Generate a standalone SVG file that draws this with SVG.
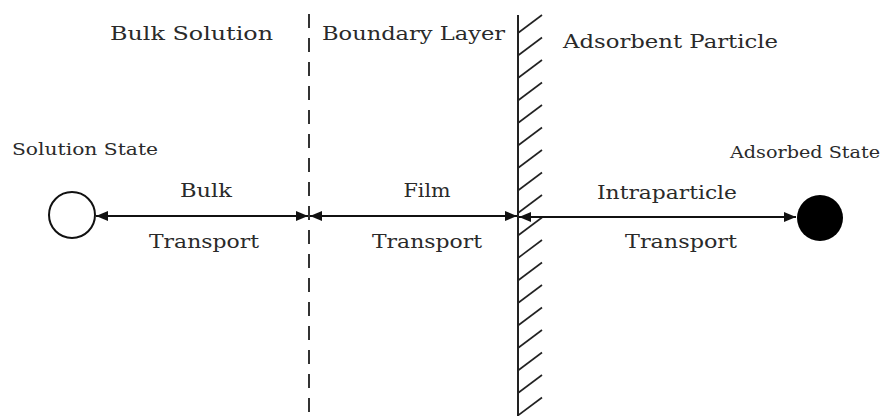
<svg xmlns="http://www.w3.org/2000/svg" width="886" height="416" viewBox="0 0 886 416">
  <style>
    text { font-family: "DejaVu Serif", "Liberation Serif", serif; fill: #2a2a2a; }
    .region { font-size: 18px; }
    .state { font-size: 16px; }
    .label { font-size: 18px; text-anchor: middle; }
    .flow { stroke: #111; stroke-width: 2; fill: none; marker-start: url(#head); marker-end: url(#head); }
    .hatch { stroke: #222; stroke-width: 1.6; }
  </style>
  <defs>
    <marker id="head" viewBox="0 0 12 10" refX="12" refY="5" markerWidth="12" markerHeight="10" markerUnits="userSpaceOnUse" orient="auto-start-reverse">
      <path d="M0,0 L12,5 L0,10 Z" fill="#111"/>
    </marker>
  </defs>

  <rect width="886" height="416" fill="#fff"/>

  <!-- region boundaries -->
  <g id="boundary-dashed">
    <line x1="309" y1="14" x2="309" y2="416" stroke="#333" stroke-width="2" stroke-dasharray="14 10"/>
  </g>
  <g id="particle-surface">
    <line x1="518" y1="15" x2="518" y2="416" stroke="#222" stroke-width="2"/>
    <g class="hatch">
      <line x1="518" y1="33" x2="542" y2="15"/>
      <line x1="518" y1="55.5" x2="542" y2="37.5"/>
      <line x1="518" y1="78" x2="542" y2="60"/>
      <line x1="518" y1="100.5" x2="542" y2="82.5"/>
      <line x1="518" y1="123" x2="542" y2="105"/>
      <line x1="518" y1="145.5" x2="542" y2="127.5"/>
      <line x1="518" y1="168" x2="542" y2="150"/>
      <line x1="518" y1="190.5" x2="542" y2="172.5"/>
      <line x1="518" y1="213" x2="542" y2="195"/>
      <line x1="518" y1="235.5" x2="542" y2="217.5"/>
      <line x1="518" y1="258" x2="542" y2="240"/>
      <line x1="518" y1="280.5" x2="542" y2="262.5"/>
      <line x1="518" y1="303" x2="542" y2="285"/>
      <line x1="518" y1="325.5" x2="542" y2="307.5"/>
      <line x1="518" y1="348" x2="542" y2="330"/>
      <line x1="518" y1="370.5" x2="542" y2="352.5"/>
      <line x1="518" y1="393" x2="542" y2="375"/>
      <line x1="518" y1="415.5" x2="542" y2="397.5"/>
    </g>
  </g>

  <!-- region titles -->
  <text class="region" x="110" y="40" textLength="163" lengthAdjust="spacingAndGlyphs">Bulk  Solution</text>
  <text class="region" x="322" y="40" textLength="183" lengthAdjust="spacingAndGlyphs">Boundary  Layer</text>
  <text class="region" x="563" y="48" textLength="215" lengthAdjust="spacingAndGlyphs">Adsorbent  Particle</text>

  <!-- states -->
  <g id="solution-state">
    <circle cx="72" cy="215" r="23" fill="#fff" stroke="#111" stroke-width="2"/>
    <text class="state" x="12" y="155" textLength="146" lengthAdjust="spacingAndGlyphs">Solution State</text>
  </g>
  <g id="adsorbed-state">
    <circle cx="820" cy="218" r="23" fill="#000"/>
    <text class="state" x="730" y="158" textLength="150" lengthAdjust="spacingAndGlyphs">Adsorbed State</text>
  </g>

  <!-- transport steps -->
  <g id="connectors">
    <line class="flow" x1="96" y1="216" x2="308" y2="216"/>
    <line class="flow" x1="310" y1="216" x2="517" y2="216"/>
    <line class="flow" x1="519" y1="217" x2="796" y2="217"/>
  </g>
  <g id="bulk-transport">
    <text class="label" x="206" y="197" textLength="52" lengthAdjust="spacingAndGlyphs">Bulk</text>
    <text class="label" x="204" y="248" textLength="110" lengthAdjust="spacingAndGlyphs">Transport</text>
  </g>
  <g id="film-transport">
    <text class="label" x="427" y="197" textLength="47" lengthAdjust="spacingAndGlyphs">Film</text>
    <text class="label" x="427" y="248" textLength="110" lengthAdjust="spacingAndGlyphs">Transport</text>
  </g>
  <g id="intraparticle-transport">
    <text class="label" x="667" y="199" textLength="140" lengthAdjust="spacingAndGlyphs">Intraparticle</text>
    <text class="label" x="681" y="248" textLength="112" lengthAdjust="spacingAndGlyphs">Transport</text>
  </g>
</svg>
